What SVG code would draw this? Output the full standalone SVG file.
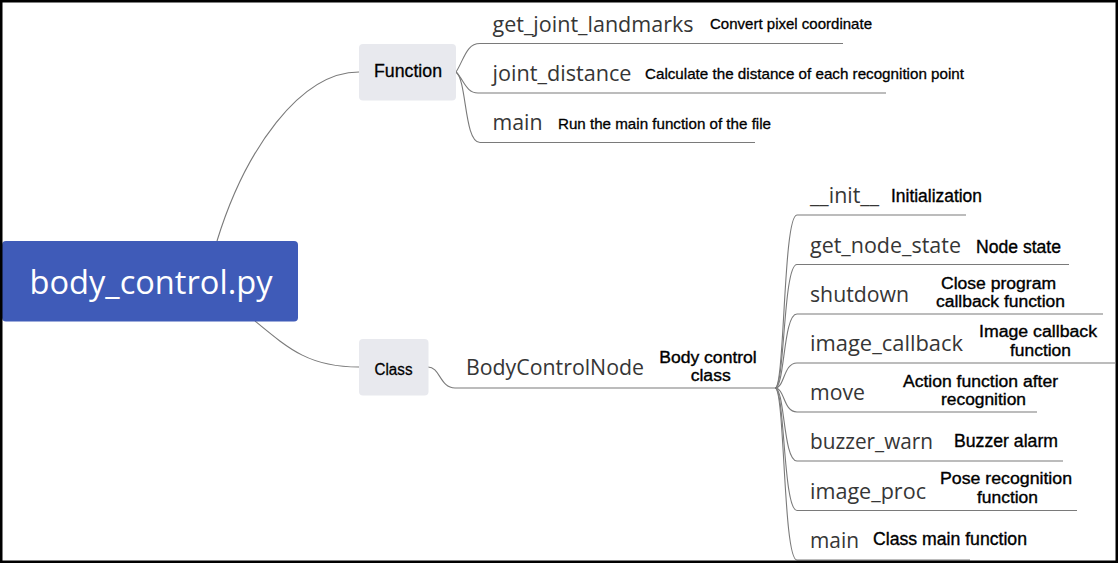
<svg xmlns="http://www.w3.org/2000/svg" width="1118" height="563" viewBox="0 0 1118 563">
<style>
.bg{fill:#ffffff}
.frame{fill:none;stroke:#000;stroke-width:2.5}
.root{fill:#3f5bb8}
.roottxt{font-family:"Open Sans","Noto Sans",sans-serif;font-size:33px;fill:#ffffff}
.box{fill:#e8e9ee}
.boxtxt{font-family:"Liberation Sans",Arial,sans-serif;fill:#000;stroke:#000;stroke-width:0.3}
.lbl{font-family:"Open Sans","Noto Sans",sans-serif;font-size:21px;fill:#363636}
.d15{font-family:"Liberation Sans",Arial,sans-serif;font-size:15px;fill:#000;stroke:#000;stroke-width:0.3}
.d17{font-family:"Liberation Sans",Arial,sans-serif;font-size:17.5px;fill:#000;stroke:#000;stroke-width:0.35}
.d16{font-family:"Liberation Sans",Arial,sans-serif;font-size:16px;fill:#000;stroke:#000;stroke-width:0.35}
.c{text-anchor:middle}
.con path,.ul{fill:none;stroke:#7a7a7a;stroke-width:1.1}
</style>
<rect class="bg" x="0" y="0" width="1118" height="563"/>

<g id="connectors" class="con">
  <path d="M217,241 C245,150 300,72 359,72"/>
  <path d="M255,321 C290,350 310,367 359,367"/>
  <path d="M456,72 C464,60 466,43.5 480,43.5"/>
  <path d="M456,72 C464,80 466,93 478,93"/>
  <path d="M456,72 C467,80 464,142.5 480,142.5"/>
  <path d="M428,367 C440,367 440,388 455,388"/>
  <path d="M775,388 C785,388 783,215 797,215"/>
  <path d="M775,388 C785,388 783,264.5 797,264.5"/>
  <path d="M775,388 C785,388 783,314 797,314"/>
  <path d="M775,388 C785,388 783,363 797,363"/>
  <path d="M775,388 C785,388 783,412 797,412"/>
  <path d="M775,388 C785,388 783,461 797,461"/>
  <path d="M775,388 C785,388 783,510.5 797,510.5"/>
  <path d="M775,388 C785,388 783,560 797,560"/>
</g>

<g id="root">
  <rect class="root" x="2" y="241" width="296" height="80.5" rx="4"/>
  <text class="roottxt c" x="151" y="293.5" textLength="243" lengthAdjust="spacingAndGlyphs">body_control.py</text>
</g>

<g id="function">
  <rect class="box" x="359" y="44" width="97" height="56.5" rx="4"/>
  <text class="boxtxt c" x="408" y="76.5" font-size="18" textLength="68" lengthAdjust="spacingAndGlyphs">Function</text>
</g>

<g id="class">
  <rect class="box" x="359" y="339" width="69.5" height="56.5" rx="4"/>
  <text class="boxtxt c" x="393.5" y="375" font-size="16" textLength="38" lengthAdjust="spacingAndGlyphs">Class</text>
</g>

<g id="get_joint_landmarks">
  <line class="ul" x1="480" y1="43.5" x2="843" y2="43.5"/>
  <text class="lbl" x="492.5" y="31.7" textLength="201" lengthAdjust="spacingAndGlyphs">get_joint_landmarks</text>
  <text class="d15" x="710" y="29.3" textLength="162" lengthAdjust="spacingAndGlyphs">Convert pixel coordinate</text>
</g>
<g id="joint_distance">
  <line class="ul" x1="478" y1="93" x2="886" y2="93"/>
  <text class="lbl" x="492.5" y="81" textLength="139" lengthAdjust="spacingAndGlyphs">joint_distance</text>
  <text class="d15" x="645" y="79" textLength="319" lengthAdjust="spacingAndGlyphs">Calculate the distance of each recognition point</text>
</g>
<g id="main_func">
  <line class="ul" x1="480" y1="142.5" x2="755" y2="142.5"/>
  <text class="lbl" x="492.5" y="129.5" textLength="50" lengthAdjust="spacingAndGlyphs">main</text>
  <text class="d15" x="558" y="129.3" textLength="213" lengthAdjust="spacingAndGlyphs">Run the main function of the file</text>
</g>

<g id="BodyControlNode">
  <line class="ul" x1="455" y1="388" x2="775" y2="388"/>
  <text class="lbl" x="466" y="375" textLength="178" lengthAdjust="spacingAndGlyphs">BodyControlNode</text>
  <text class="d16 c" x="708" y="363" textLength="97.5" lengthAdjust="spacingAndGlyphs">Body control</text>
  <text class="d16 c" x="710.7" y="381" textLength="40" lengthAdjust="spacingAndGlyphs">class</text>
</g>

<g id="init">
  <line class="ul" x1="797" y1="215" x2="966" y2="215"/>
  <text class="lbl" x="810" y="203" textLength="69" lengthAdjust="spacingAndGlyphs">__init__</text>
  <text class="d17" x="891" y="201.7" textLength="91" lengthAdjust="spacingAndGlyphs">Initialization</text>
</g>
<g id="get_node_state">
  <line class="ul" x1="797" y1="264.5" x2="1069" y2="264.5"/>
  <text class="lbl" x="810" y="252.5" textLength="151" lengthAdjust="spacingAndGlyphs">get_node_state</text>
  <text class="d17" x="976" y="252.7" textLength="85" lengthAdjust="spacingAndGlyphs">Node state</text>
</g>
<g id="shutdown">
  <line class="ul" x1="797" y1="314" x2="1103" y2="314"/>
  <text class="lbl" x="810" y="302" textLength="99" lengthAdjust="spacingAndGlyphs">shutdown</text>
  <text class="d16 c" x="998.5" y="289" textLength="115" lengthAdjust="spacingAndGlyphs">Close program</text>
  <text class="d16 c" x="1000.5" y="307" textLength="129" lengthAdjust="spacingAndGlyphs">callback function</text>
</g>
<g id="image_callback">
  <line class="ul" x1="797" y1="363" x2="1115" y2="363"/>
  <text class="lbl" x="810" y="351" textLength="153" lengthAdjust="spacingAndGlyphs">image_callback</text>
  <text class="d16 c" x="1038" y="336.5" textLength="118" lengthAdjust="spacingAndGlyphs">Image callback</text>
  <text class="d16 c" x="1040.5" y="356" textLength="61" lengthAdjust="spacingAndGlyphs">function</text>
</g>
<g id="move">
  <line class="ul" x1="797" y1="412" x2="1037" y2="412"/>
  <text class="lbl" x="810" y="400" textLength="55" lengthAdjust="spacingAndGlyphs">move</text>
  <text class="d16 c" x="980.5" y="387" textLength="155" lengthAdjust="spacingAndGlyphs">Action function after</text>
  <text class="d16 c" x="983.5" y="405.3" textLength="85" lengthAdjust="spacingAndGlyphs">recognition</text>
</g>
<g id="buzzer_warn">
  <line class="ul" x1="797" y1="461" x2="1063" y2="461"/>
  <text class="lbl" x="810" y="449" textLength="123" lengthAdjust="spacingAndGlyphs">buzzer_warn</text>
  <text class="d17" x="954" y="447.3" textLength="104" lengthAdjust="spacingAndGlyphs">Buzzer alarm</text>
</g>
<g id="image_proc">
  <line class="ul" x1="797" y1="510.5" x2="1077" y2="510.5"/>
  <text class="lbl" x="810" y="498.5" textLength="116" lengthAdjust="spacingAndGlyphs">image_proc</text>
  <text class="d16 c" x="1006" y="484" textLength="132" lengthAdjust="spacingAndGlyphs">Pose recognition</text>
  <text class="d16 c" x="1007.5" y="503" textLength="61" lengthAdjust="spacingAndGlyphs">function</text>
</g>
<g id="main_class">
  <line class="ul" x1="797" y1="560" x2="970" y2="560"/>
  <text class="lbl" x="810" y="548" textLength="49" lengthAdjust="spacingAndGlyphs">main</text>
  <text class="d17" x="873" y="545" textLength="154" lengthAdjust="spacingAndGlyphs">Class main function</text>
</g>

<rect class="frame" x="1.25" y="1.25" width="1115.5" height="560.5"/>
</svg>
